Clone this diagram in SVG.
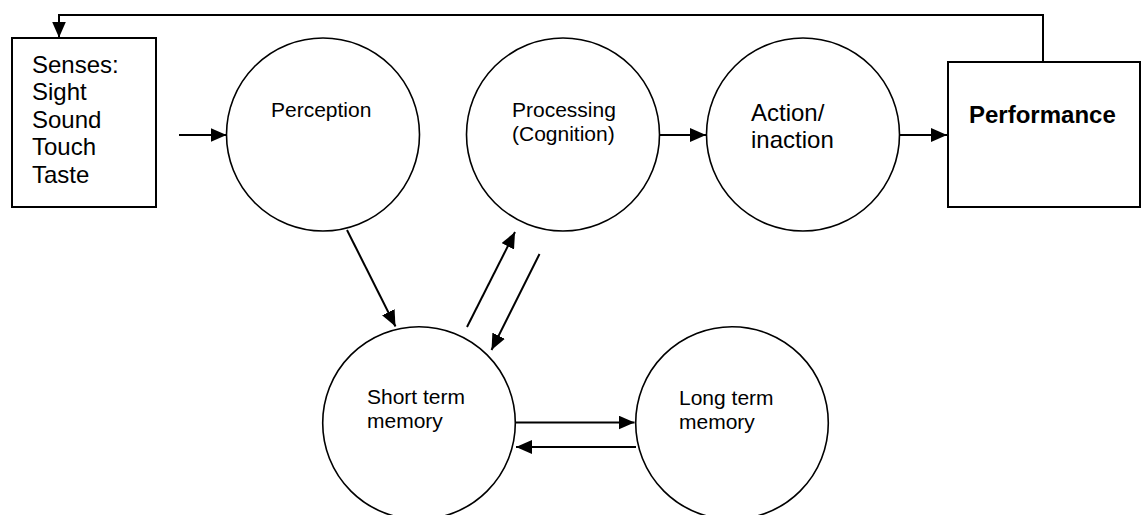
<svg xmlns="http://www.w3.org/2000/svg" width="1145" height="515" viewBox="0 0 1145 515">
<defs>
<style>
.box{fill:#fff;stroke:#000;stroke-width:2}
.node{fill:#fff;stroke:#000;stroke-width:1.6}
.t{font-family:"Liberation Sans",Arial,sans-serif;fill:#000}
.t24{font-size:24px}
.t21{font-size:21px}
.b{font-weight:bold}
.c{fill:none;stroke:#000;stroke-width:2}
</style>
<marker id="ah" markerUnits="userSpaceOnUse" markerWidth="16" markerHeight="14" refX="16" refY="7" orient="auto">
<path d="M0,0 L16,7 L0,14 z" fill="#000"/>
</marker>
</defs>
<rect width="1145" height="515" fill="#fff"/>
<g id="senses">
<rect class="box" x="12" y="38" width="144" height="169"/>
<text class="t t24" x="32"><tspan x="32" y="73">Senses:</tspan><tspan x="32" y="100">Sight</tspan><tspan x="32" y="128">Sound</tspan><tspan x="32" y="155">Touch</tspan><tspan x="32" y="183">Taste</tspan></text>
</g>
<g id="perception">
<circle class="node" cx="323" cy="134.5" r="96.5"/>
<text class="t t21" x="271" y="117">Perception</text>
</g>
<g id="processing">
<circle class="node" cx="563" cy="134.5" r="96.5"/>
<text class="t t21"><tspan x="512" y="117">Processing</tspan><tspan x="512" y="141">(Cognition)</tspan></text>
</g>
<g id="action">
<circle class="node" cx="803" cy="134.5" r="96.5"/>
<text class="t t24"><tspan x="751" y="121">Action/</tspan><tspan x="751" y="148">inaction</tspan></text>
</g>
<g id="performance">
<rect class="box" x="948" y="62" width="192" height="145"/>
<text class="t t24 b" x="969" y="123">Performance</text>
</g>
<g id="stm">
<circle class="node" cx="419" cy="423" r="96.3"/>
<text class="t t21"><tspan x="367" y="404">Short term</tspan><tspan x="367" y="428">memory</tspan></text>
</g>
<g id="ltm">
<circle class="node" cx="732" cy="423" r="96.3"/>
<text class="t t21"><tspan x="679" y="405">Long term</tspan><tspan x="679" y="429">memory</tspan></text>
</g>
<g id="connectors">
<polyline class="c" points="1043,62 1043,15 59,15 59,37.5" marker-end="url(#ah)"/>
<line class="c" x1="179" y1="135" x2="226.5" y2="135" marker-end="url(#ah)"/>
<line class="c" x1="660" y1="135" x2="706" y2="135" marker-end="url(#ah)"/>
<line class="c" x1="899.5" y1="135" x2="947" y2="135" marker-end="url(#ah)"/>
<line class="c" x1="347" y1="230" x2="395.5" y2="326.5" marker-end="url(#ah)"/>
<line class="c" x1="467" y1="327" x2="515" y2="232" marker-end="url(#ah)"/>
<line class="c" x1="539.5" y1="254" x2="491.5" y2="350" marker-end="url(#ah)"/>
<line class="c" x1="515" y1="422.5" x2="634.5" y2="422.5" marker-end="url(#ah)"/>
<line class="c" x1="636" y1="447" x2="516" y2="447" marker-end="url(#ah)"/>
</g>
</svg>
